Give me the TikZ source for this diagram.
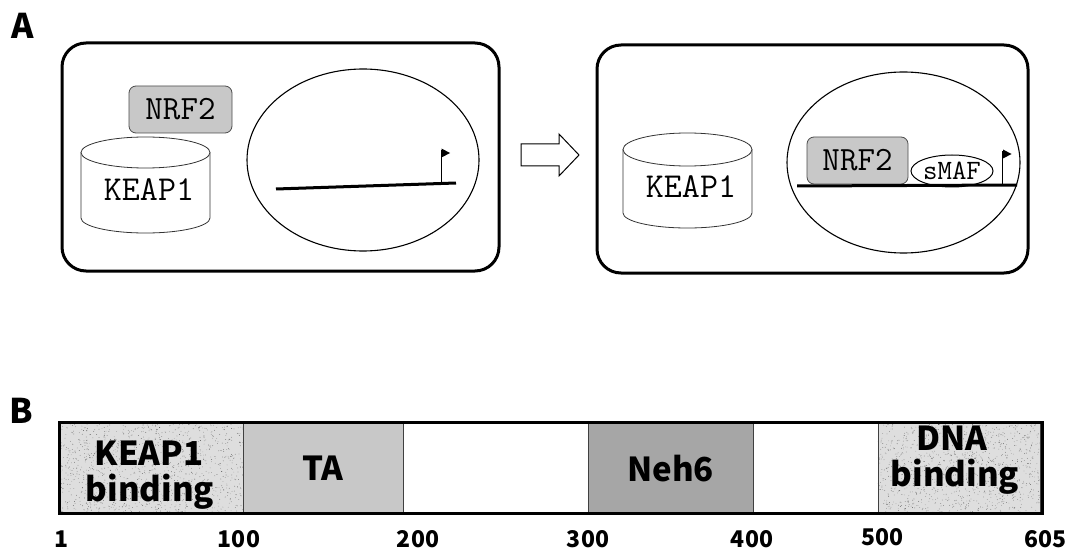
\documentclass[tikz,border=0pt]{standalone}
\usepackage{fontspec}
\usetikzlibrary{shapes.geometric}
\newfontfamily\jpfam{Noto Sans CJK JP}
\definecolor{boxgray}{HTML}{C8C8C8}
\definecolor{nehgray}{HTML}{A6A6A6}
\definecolor{speckgray}{HTML}{DEDEDE}
\tikzset{
  outerbox/.style={draw=black, line width=3pt, rounded corners=24pt, inner sep=0pt},
  cellell/.style={draw=black, ellipse, line width=1.1pt, inner sep=0pt},
  protein/.style={draw=black!70, fill=boxgray, line width=0.8pt, rounded corners=7pt,
     inner sep=0pt, font=\ttfamily\fontsize{34}{34}\selectfont},
  monolabel/.style={inner sep=0pt, font=\ttfamily\fontsize{35}{35}\selectfont},
  smaflabel/.style={draw=black, ellipse, line width=1pt, fill=white, inner sep=0pt,
     font=\ttfamily\fontsize{28}{28}\selectfont},
  cylline/.style={draw=black!80, line width=0.8pt},
  dnaline/.style={line width=3pt, line cap=butt},
  flagpole/.style={line width=0.9pt},
  blockarrow/.style={draw=black, line width=1pt, fill=white, line join=miter},
  panellabel/.style={inner sep=0pt, font=\jpfam\bfseries\fontsize{34}{34}\selectfont},
  domainlabel/.style={inner sep=0pt, anchor=base, font=\jpfam\bfseries\fontsize{33}{36}\selectfont},
  ticklabel/.style={inner sep=0pt, anchor=base, font=\jpfam\bfseries\fontsize{23}{23}\selectfont},
  segment/.style={draw=black!75, line width=0.9pt},
}
\begin{document}
\begin{tikzpicture}[x=1pt,y=-1pt]
\useasboundingbox (0,0) rectangle (1068,548);
\fill[white] (0,0) rectangle (1068,548);

% ---------- Panel A ----------
\node[panellabel] (labA) at (23,26) {A};

% left state
\node[outerbox, minimum width=437pt, minimum height=228pt] (stateL) at (280.5,157) {};
\node[cellell, minimum width=232pt, minimum height=182pt] (nucL) at (363,160) {};
% KEAP1 cylinder (left)
\filldraw[cylline, fill=white] (81,152.5) -- (81,218) arc[start angle=180, end angle=360, x radius=64.5pt, y radius=15pt] -- (210,152.5);
\filldraw[cylline, fill=white] (145.5,152.5) ellipse [x radius=64.5pt, y radius=15.5pt];
\node[monolabel] (keapL) at (149,190) {KEAP1};
\node[protein, minimum width=103pt, minimum height=47pt] (nrfL) at (180.5,109.5) {NRF2};
% DNA and flag (left)
\coordinate (dnaLs) at (276,189);
\coordinate (dnaLe) at (456,183);
\draw[dnaline] (dnaLs) -- (dnaLe);
\coordinate (poleLb) at (441,183.5);
\coordinate (poleLt) at (441,150);
\draw[flagpole] (poleLb) -- (poleLt);
\fill (441.5,148.5) -- (450,153) -- (441.5,157.5) -- cycle;

% arrow
\filldraw[blockarrow] (521,144) -- (559,144) -- (559,134) -- (579,155) -- (559,176) -- (559,166) -- (521,166) -- cycle;

% right state
\node[outerbox, minimum width=431pt, minimum height=228pt] (stateR) at (812.5,159) {};
\node[cellell, minimum width=233pt, minimum height=181pt] (nucR) at (903.5,162.5) {};
% KEAP1 cylinder (right)
\filldraw[cylline, fill=white] (623,149.5) -- (623,213) arc[start angle=180, end angle=360, x radius=64.5pt, y radius=15pt] -- (752,149.5);
\filldraw[cylline, fill=white] (687.5,149.5) ellipse [x radius=64.5pt, y radius=16.5pt];
\node[monolabel] (keapR) at (691,187) {KEAP1};
\node[protein, minimum width=101pt, minimum height=47pt] (nrfR) at (857.5,160.5) {NRF2};
\node[smaflabel, minimum width=82pt, minimum height=32pt] (smaf) at (952,171) {sMAF};
\coordinate (dnaRs) at (797,186);
\coordinate (dnaRe) at (1017,185);
\draw[dnaline] (dnaRs) -- (dnaRe);
\coordinate (poleRb) at (1002.5,185);
\coordinate (poleRt) at (1002.5,151);
\draw[flagpole] (poleRb) -- (poleRt);
\fill (1003,149.5) -- (1011.5,154) -- (1003,158.5) -- cycle;

% ---------- Panel B ----------
\node[panellabel] (labB) at (21,411) {B};

% speckled domains
\fill[speckgray] (59,422) rectangle (243,513);
\fill[speckgray] (878,422) rectangle (1040,513);
\pgfmathsetseed{7}
\foreach \i in {1,...,1300}{
  \pgfmathsetmacro\rx{59+184*rnd}
  \pgfmathsetmacro\ry{422+91*rnd}
  \pgfmathsetmacro\sh{35+35*rnd}
  \fill[black!\sh!white] (\rx,\ry) circle (0.4pt);
}
\foreach \i in {1,...,1150}{
  \pgfmathsetmacro\rx{878+162*rnd}
  \pgfmathsetmacro\ry{422+91*rnd}
  \pgfmathsetmacro\sh{35+35*rnd}
  \fill[black!\sh!white] (\rx,\ry) circle (0.4pt);
}
\draw[segment] (59,422) rectangle (243,513);
\draw[segment] (878,422) rectangle (1040,513);
\filldraw[segment, fill=boxgray] (243,422) rectangle (403,513);
\filldraw[segment, fill=nehgray] (588,422) rectangle (753,513);
\draw[line width=3pt] (59,422) rectangle (1042,513);

\node[domainlabel] (keapb1) at (149,465) {KEAP1};
\node[domainlabel] (keapb2) at (150,501) {binding};
\node[domainlabel] (ta) at (323,480) {TA};
\node[domainlabel] (neh6) at (670.5,481) {Neh6};
\node[domainlabel] (dnab1) at (952,450) {DNA};
\node[domainlabel] (dnab2) at (955,486) {binding};

\node[ticklabel] (t1) at (62,547) {1};
\node[ticklabel] (t100) at (239,547) {100};
\node[ticklabel] (t200) at (418,547) {200};
\node[ticklabel] (t300) at (588,547) {300};
\node[ticklabel] (t400) at (752,547) {400};
\node[ticklabel] (t500) at (882,545) {500};
\node[ticklabel] (t605) at (1045,547) {605};
\end{tikzpicture}
\end{document}
